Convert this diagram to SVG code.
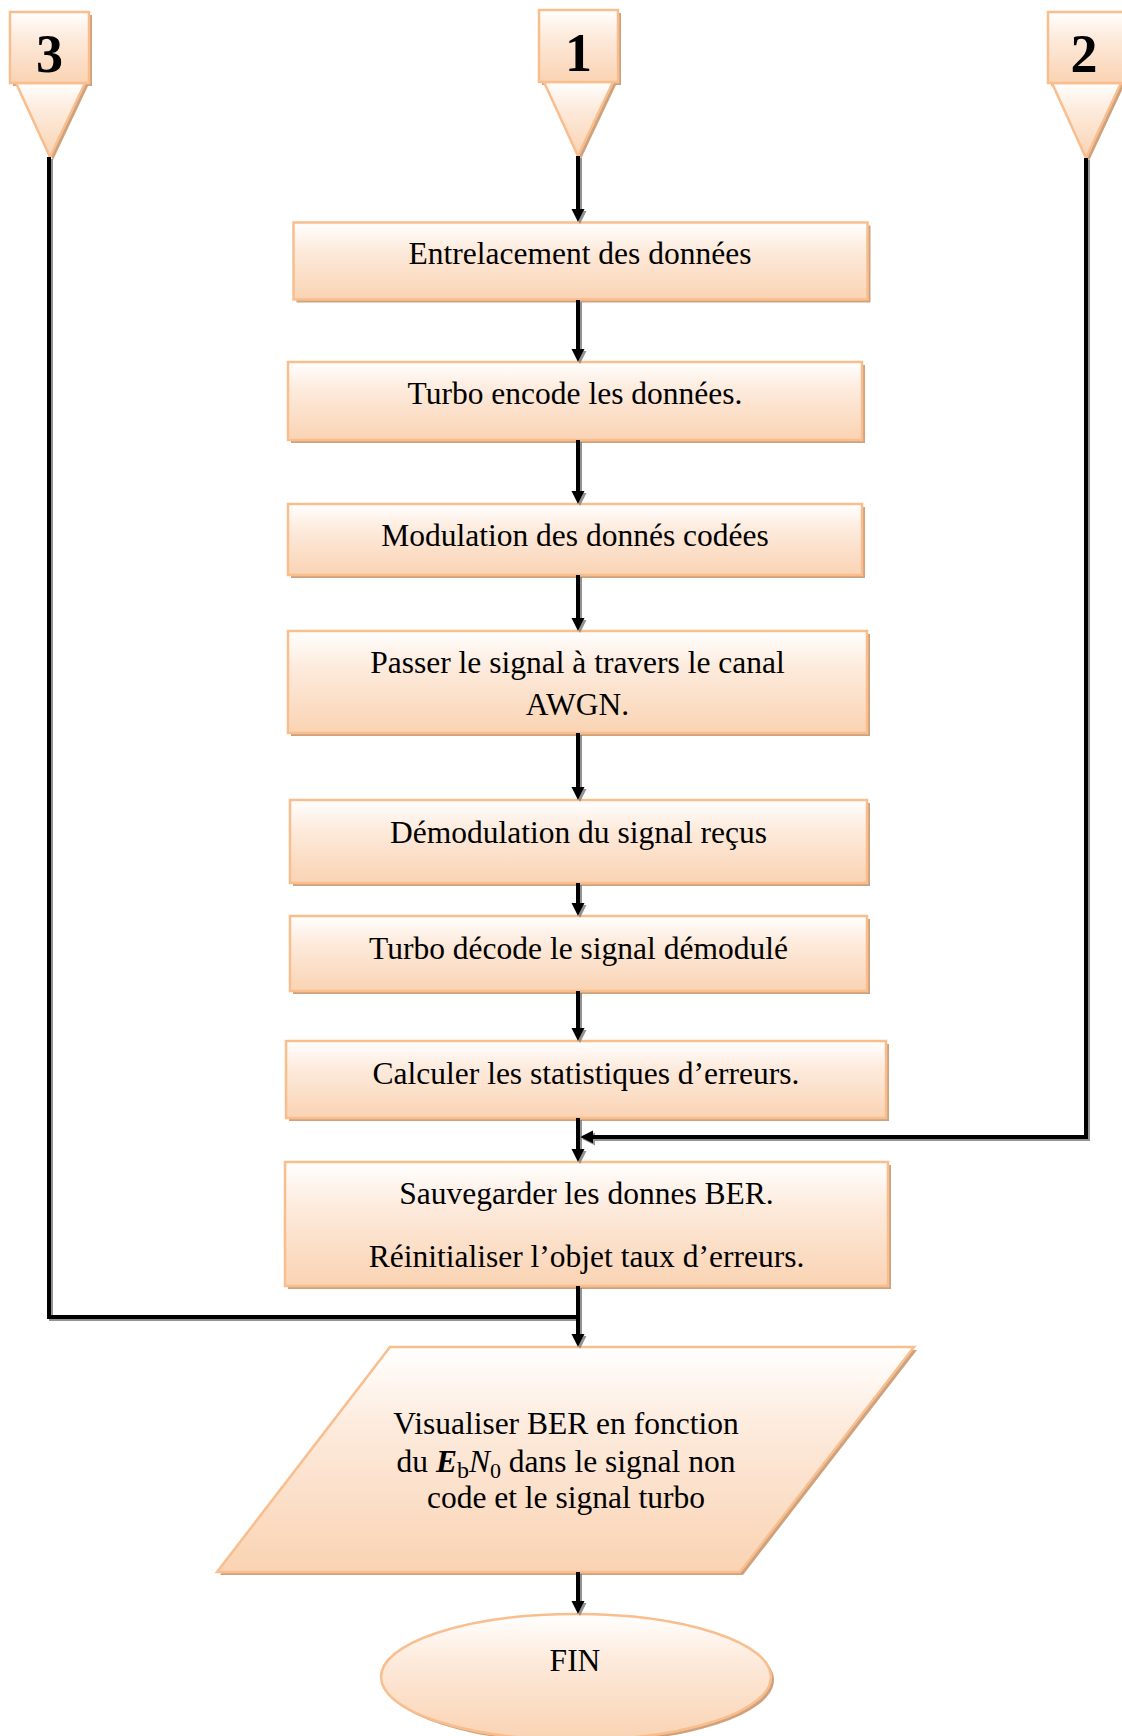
<svg xmlns="http://www.w3.org/2000/svg" width="1122" height="1736" viewBox="0 0 1122 1736">
  <defs>
    <linearGradient id="peach" x1="0" y1="0" x2="0" y2="1">
      <stop offset="0" stop-color="#FFFFFF"/>
      <stop offset="0.35" stop-color="#FDEBDD"/>
      <stop offset="1" stop-color="#FAD3B3"/>
    </linearGradient>
    <marker id="arr" markerUnits="userSpaceOnUse" markerWidth="14" markerHeight="14" refX="2" refY="7" orient="auto">
      <path d="M0,0.5 L13,7 L0,13.5 z" fill="#000"/>
    </marker>
    <filter id="lineShadow" x="-10%" y="-10%" width="120%" height="120%">
      <feDropShadow dx="2" dy="2" stdDeviation="0.6" flood-color="#808080" flood-opacity="0.85"/>
    </filter>
    <style>
      .shape { fill: url(#peach); stroke: #F9BE8E; stroke-width: 2.5; }
      .shadow { fill: #CFA27E; stroke: none; }
      .label { font-family: "Liberation Serif", "Times New Roman", serif; font-size: 31.5px; fill: #000; text-anchor: middle; }
      .num { font-family: "Liberation Serif", "Times New Roman", serif; font-size: 54px; font-weight: bold; fill: #000; text-anchor: middle; }
      .conn { fill: none; stroke: #000; stroke-width: 4; }
    </style>
  </defs>

  <!-- off-page connectors -->
  <g id="ref3">
    <rect class="shadow" x="13" y="15" width="79" height="71"/>
    <polygon class="shadow" points="19,86 88,86 53,160"/>
    <polygon class="shape" points="16,83 85,83 50,157"/>
    <rect class="shape" x="10" y="12" width="79" height="71"/>
    <text class="num" x="49.5" y="72">3</text>
  </g>
  <g id="ref1">
    <rect class="shadow" x="542" y="13" width="79" height="72"/>
    <polygon class="shadow" points="547,85 616,85 581,159"/>
    <polygon class="shape" points="544,82 613,82 578,156"/>
    <rect class="shape" x="539" y="10" width="79" height="72"/>
    <text class="num" x="578.5" y="71">1</text>
  </g>
  <g id="ref2">
    <rect class="shadow" x="1051" y="15" width="79" height="71"/>
    <polygon class="shadow" points="1055,86 1124,86 1089,161"/>
    <polygon class="shape" points="1052,83 1121,83 1086,158"/>
    <rect class="shape" x="1048" y="12" width="79" height="71"/>
    <text class="num" x="1084" y="72">2</text>
  </g>

  <!-- process steps -->
  <g id="step1">
    <rect class="shadow" x="296.5" y="225.5" width="574" height="77"/>
    <rect class="shape" x="293.5" y="222.5" width="574" height="77"/>
    <text class="label" x="580" y="264">Entrelacement des données</text>
  </g>
  <g id="step2">
    <rect class="shadow" x="291" y="365" width="574" height="78"/>
    <rect class="shape" x="288" y="362" width="574" height="78"/>
    <text class="label" x="575" y="404">Turbo encode les données.</text>
  </g>
  <g id="step3">
    <rect class="shadow" x="291" y="507" width="574" height="71"/>
    <rect class="shape" x="288" y="504" width="574" height="71"/>
    <text class="label" x="575" y="546">Modulation des donnés codées</text>
  </g>
  <g id="step4">
    <rect class="shadow" x="291" y="634" width="579" height="102"/>
    <rect class="shape" x="288" y="631" width="579" height="102"/>
    <text class="label" x="577.5" y="673">Passer le signal à travers le canal</text>
    <text class="label" x="577.5" y="715">AWGN.</text>
  </g>
  <g id="step5">
    <rect class="shadow" x="293" y="803" width="577" height="83"/>
    <rect class="shape" x="290" y="800" width="577" height="83"/>
    <text class="label" x="578.5" y="843">Démodulation du signal reçus</text>
  </g>
  <g id="step6">
    <rect class="shadow" x="293" y="919" width="577" height="75"/>
    <rect class="shape" x="290" y="916" width="577" height="75"/>
    <text class="label" x="578.5" y="959">Turbo décode le signal démodulé</text>
  </g>
  <g id="step7">
    <rect class="shadow" x="289" y="1044" width="600" height="77"/>
    <rect class="shape" x="286" y="1041" width="600" height="77"/>
    <text class="label" x="586" y="1084">Calculer les statistiques d’erreurs.</text>
  </g>
  <g id="step8">
    <rect class="shadow" x="288" y="1165" width="603" height="124"/>
    <rect class="shape" x="285" y="1162" width="603" height="124"/>
    <text class="label" x="586.5" y="1204">Sauvegarder les donnes BER.</text>
    <text class="label" x="586.5" y="1267">Réinitialiser l’objet taux d’erreurs.</text>
  </g>

  <!-- output -->
  <g id="plot">
    <polygon class="shadow" points="393,1350 917,1350 743,1575 220,1575"/>
    <polygon class="shape" points="390,1347 914,1347 740,1572 217,1572"/>
    <text class="label" x="566" y="1434">Visualiser BER en fonction</text>
    <text class="label" x="566" y="1472">du <tspan font-weight="bold" font-style="italic">E</tspan><tspan dy="6" font-size="24">b</tspan><tspan dy="-6" font-style="italic">N</tspan><tspan dy="6" font-size="22">0</tspan><tspan dy="-6"> dans le signal non</tspan></text>
    <text class="label" x="566" y="1508">code et le signal turbo</text>
  </g>

  <!-- terminator -->
  <g id="fin">
    <ellipse class="shadow" cx="579" cy="1680" rx="195" ry="63"/>
    <ellipse class="shape" cx="576" cy="1677" rx="195" ry="63"/>
    <text class="label" x="575" y="1671">FIN</text>
  </g>

  <!-- connectors -->
  <g id="connectors" filter="url(#lineShadow)">
    <path class="conn" d="M578,156 V211" marker-end="url(#arr)"/>
    <path class="conn" d="M578,300 V351" marker-end="url(#arr)"/>
    <path class="conn" d="M578,440 V493" marker-end="url(#arr)"/>
    <path class="conn" d="M578,575 V620" marker-end="url(#arr)"/>
    <path class="conn" d="M578,733 V789" marker-end="url(#arr)"/>
    <path class="conn" d="M578,883 V905" marker-end="url(#arr)"/>
    <path class="conn" d="M578,991 V1030" marker-end="url(#arr)"/>
    <path class="conn" d="M578,1118 V1151" marker-end="url(#arr)"/>
    <path class="conn" d="M1086,158 V1137 H591" marker-end="url(#arr)"/>
    <path class="conn" d="M578,1286 V1336" marker-end="url(#arr)"/>
    <path class="conn" d="M49,157 V1317 H578"/>
    <path class="conn" d="M578,1572 V1603" marker-end="url(#arr)"/>
  </g>
</svg>
